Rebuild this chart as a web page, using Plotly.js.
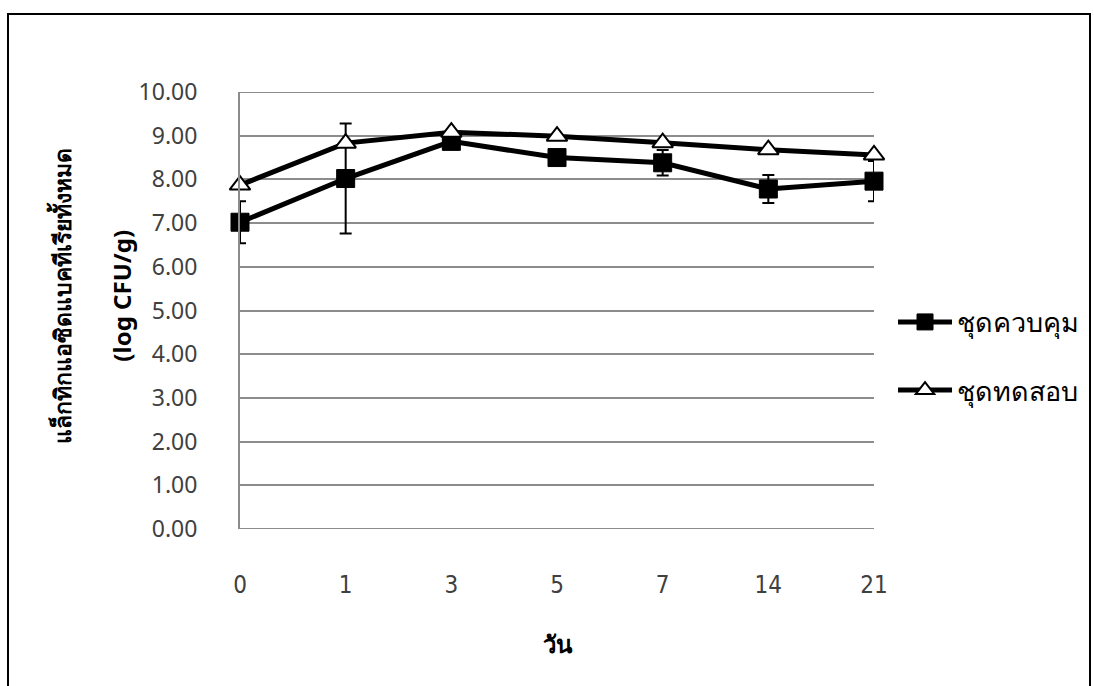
<!DOCTYPE html>
<html>
<head>
<meta charset="utf-8">
<script src="https://cdn.plot.ly/plotly-3.0.1.min.js"></script>
<style>
  html, body { margin: 0; padding: 0; background: #fff; }
  #chart { width: 1094px; height: 686px; }
</style>
</head>
<body>
<div id="chart"></div>
<script>
// Storage day (category labels on the x axis)
const days = ['0', '1', '3', '5', '7', '14', '21'];

// Total lactic acid bacteria, log CFU/g
const controlValues = [7.02, 8.02, 8.87, 8.50, 8.38, 7.78, 7.96];
const controlErrors = [0.48, 1.26, 0.05, 0.05, 0.29, 0.32, 0.46];
const testValues = [7.87, 8.83, 9.08, 8.99, 8.84, 8.68, 8.56];

// Series names
const controlName = 'ชุดควบคุม';
const testName = 'ชุดทดสอบ';

// Axis tick labels
const yTickValues = [0, 1, 2, 3, 4, 5, 6, 7, 8, 9, 10];
const yTickLabels = yTickValues.map(v => v.toFixed(2));

const gridColor = '#8c8c8c';

const traces = [
  {
    x: days, y: controlValues, name: controlName, type: 'scatter',
    mode: 'lines+markers', legendgroup: 'a', cliponaxis: false,
    line: { color: '#000', width: 5 },
    marker: { symbol: 'square', size: 18, color: '#000', line: { color: '#000', width: 1 } },
    error_y: { type: 'data', array: controlErrors, visible: true, color: '#000', thickness: 2, width: 6 }
  },
  {
    x: days, y: testValues, name: testName, type: 'scatter',
    mode: 'lines+markers', legendgroup: 'b', cliponaxis: false,
    line: { color: '#000', width: 5 },
    marker: { symbol: 'triangle-up', size: 18, color: '#fff', line: { color: '#000', width: 2 } }
  }
];

// grid lines at the two ends of the value range
const edgeGrid = [0, 10].map(v => ({
  type: 'line', xref: 'paper', yref: 'y', x0: 0, x1: 1, y0: v, y1: v,
  line: { color: gridColor, width: 2 }, layer: 'below'
}));

const layout = {
  width: 1094, height: 686,
  margin: { l: 240, r: 220, t: 92, b: 157, autoexpand: false },
  paper_bgcolor: '#fff', plot_bgcolor: '#fff',
  showlegend: true,
  legend: {
    x: 1.03, y: 0.395, xanchor: 'left', yanchor: 'middle',
    traceorder: 'grouped', tracegroupgap: 30,
    font: { family: 'Noto Sans, DejaVu Sans, sans-serif', size: 27, color: '#000' },
    itemwidth: 54, bgcolor: 'rgba(0,0,0,0)'
  },
  xaxis: {
    type: 'category', categoryorder: 'array', categoryarray: days,
    range: [0, 6], showgrid: false, zeroline: false, showline: false,
    ticks: 'outside', ticklen: 34, tickcolor: 'rgba(0,0,0,0)',
    tickfont: { family: 'Liberation Sans Narrow, DejaVu Sans Condensed, sans-serif', size: 24, color: '#404040' },
    title: { text: '<b>วัน</b>', standoff: 38,
      font: { family: 'Noto Sans, DejaVu Sans, sans-serif', size: 24, color: '#000' } }
  },
  yaxis: {
    range: [0, 10], tickvals: yTickValues, ticktext: yTickLabels,
    showgrid: true, gridcolor: gridColor, gridwidth: 2,
    zeroline: false, showline: true, linecolor: gridColor, linewidth: 2,
    ticks: 'outside', ticklen: 36, tickcolor: 'rgba(0,0,0,0)',
    tickfont: { family: 'Noto Sans, DejaVu Sans, sans-serif', size: 23, color: '#404040' }
  },
  annotations: [
    { text: '<b>แล็กทิกแอซิดแบคทีเรียทั้งหมด</b>', xref: 'paper', yref: 'paper',
      x: -0.28, y: 0.535, textangle: -90, showarrow: false, xanchor: 'center', yanchor: 'middle',
      font: { family: 'Noto Sans, DejaVu Sans, sans-serif', size: 23, color: '#000' } },
    { text: '<b>(log CFU/g)</b>', xref: 'paper', yref: 'paper',
      x: -0.187, y: 0.535, textangle: -90, showarrow: false, xanchor: 'center', yanchor: 'middle',
      font: { family: 'Noto Sans, DejaVu Sans, sans-serif', size: 24, color: '#000' } }
  ],
  shapes: edgeGrid.concat([
    // outer frame around the figure
    { type: 'rect', xref: 'paper', yref: 'paper',
      x0: (8 - 240) / 634, x1: (1090 - 240) / 634,
      y0: (529 - 720) / 437, y1: (529 - 14) / 437,
      line: { color: '#000', width: 2 }, fillcolor: 'rgba(0,0,0,0)', layer: 'below' }
  ])
};

Plotly.newPlot('chart', traces, layout, { displayModeBar: false, staticPlot: true });
</script>
</body>
</html>
